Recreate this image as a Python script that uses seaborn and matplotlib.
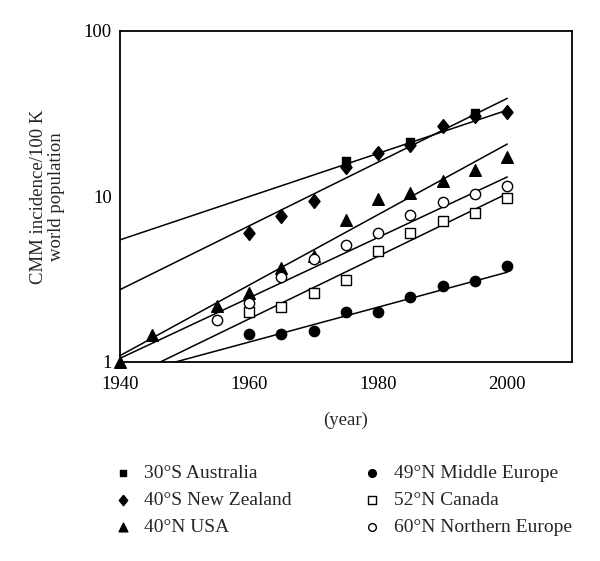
import matplotlib
matplotlib.use("Agg")
import matplotlib.pyplot as plt
import matplotlib.ticker as mticker
import seaborn as sns
import pandas as pd

# ---- data ----
australia_years = [1975, 1985, 1995]
australia = [16.3, 21.3, 31.7]

nz_years = [1960, 1965, 1970, 1975, 1980, 1985, 1990, 1995, 2000]
nz = [6.0, 7.6, 9.4, 15.1, 18.3, 20.4, 26.6, 30.7, 32.4]

usa_years = [1940, 1945, 1955, 1960, 1965, 1970, 1975, 1980, 1985, 1990, 1995, 2000]
usa = [1.0, 1.46, 2.18, 2.61, 3.68, 4.39, 7.16, 9.7, 10.5, 12.3, 14.4, 17.3]

meur_years = [1960, 1965, 1970, 1975, 1980, 1985, 1990, 1995, 2000]
meur = [1.48, 1.48, 1.54, 2.01, 2.0, 2.45, 2.88, 3.1, 3.82]

canada_years = [1960, 1965, 1970, 1975, 1980, 1985, 1990, 1995, 2000]
canada = [2.0, 2.13, 2.61, 3.14, 4.69, 6.03, 7.08, 7.96, 9.77]

neur_years = [1955, 1960, 1965, 1970, 1975, 1980, 1985, 1990, 1995, 2000]
neur = [1.80, 2.26, 3.27, 4.19, 5.05, 6.0, 7.67, 9.25, 10.4, 11.5]

# exponential trend lines (values at start and end year)
fit_years = [1940, 2000]
australia_fit = [5.46, 33.2]
nz_fit = [2.73, 39.1]
usa_fit = [1.09, 20.7]
meur_fit = [0.81, 3.48]
canada_fit = [0.76, 10.4]
neur_fit = [1.05, 13.1]

labels = ["30°S Australia", "40°S New Zealand", "40°N USA",
          "49°N Middle Europe", "52°N Canada", "60°N Northern Europe"]

x_ticks = [1940, 1960, 1980, 2000]
y_ticks = [1, 10, 100]

# ---- styling ----
sns.set_theme(style="white")
plt.rcParams["font.family"] = ["Liberation Serif", "DejaVu Serif"]

fig = plt.figure(figsize=(6.0, 5.61), dpi=100)
ax = fig.add_axes([0.2, 0.355, 0.753, 0.59])

diamond = [(0, 1), (0.8, 0), (0, -1), (-0.8, 0), (0, 1)]

series = [
    (australia_years, australia, australia_fit, "s", "black", 40),
    (nz_years, nz, nz_fit, diamond, "black", 100),
    (usa_years, usa, usa_fit, "^", "black", 70),
    (meur_years, meur, meur_fit, "o", "black", 55),
    (canada_years, canada, canada_fit, "s", "white", 55),
    (neur_years, neur, neur_fit, "o", "white", 55),
]

# trend lines
for _, _, fit, _, _, _ in series:
    sns.lineplot(x=fit_years, y=fit, ax=ax, color="black", linewidth=1.1,
                 legend=False, zorder=2)

for (yrs, vals, _, mk, fc, sz), lab in zip(series, labels):
    df = pd.DataFrame({"year": yrs, "value": vals})
    sns.scatterplot(data=df, x="year", y="value", ax=ax, marker=mk, s=sz,
                    color=fc, edgecolor="black", linewidth=1.0, zorder=3,
                    label=lab, clip_on=False)

ax.set_yscale("log")
ax.set_xlim(1940, 2010)
ax.set_ylim(1, 100)
ax.set_xticks(x_ticks)
ax.set_xticklabels([str(t) for t in x_ticks])
ax.set_yticks(y_ticks)
ax.yaxis.set_major_formatter(mticker.FixedFormatter([str(t) for t in y_ticks]))
ax.yaxis.set_minor_locator(mticker.NullLocator())
ax.tick_params(axis="both", direction="in", length=10, width=1.2,
               labelsize=13.5, colors="black", pad=6)
ax.tick_params(axis="x", pad=10)
for sp in ax.spines.values():
    sp.set_color("black")
    sp.set_linewidth(1.3)

ax.set_xlabel("(year)", fontsize=13.5, labelpad=14)
ax.set_ylabel("CMM incidence/100 K\nworld population", fontsize=13.5,
              labelpad=13, linespacing=1.1)

h, l = ax.get_legend_handles_labels()
ax.legend_.remove()
leg = fig.legend(h, l, ncol=2, loc="upper left", bbox_to_anchor=(0.143, 0.204),
                 frameon=False, fontsize=14, handletextpad=0.1,
                 columnspacing=3.15, labelspacing=0.5, markerscale=0.75)

fig.savefig("out.png", dpi=100, facecolor="white")
